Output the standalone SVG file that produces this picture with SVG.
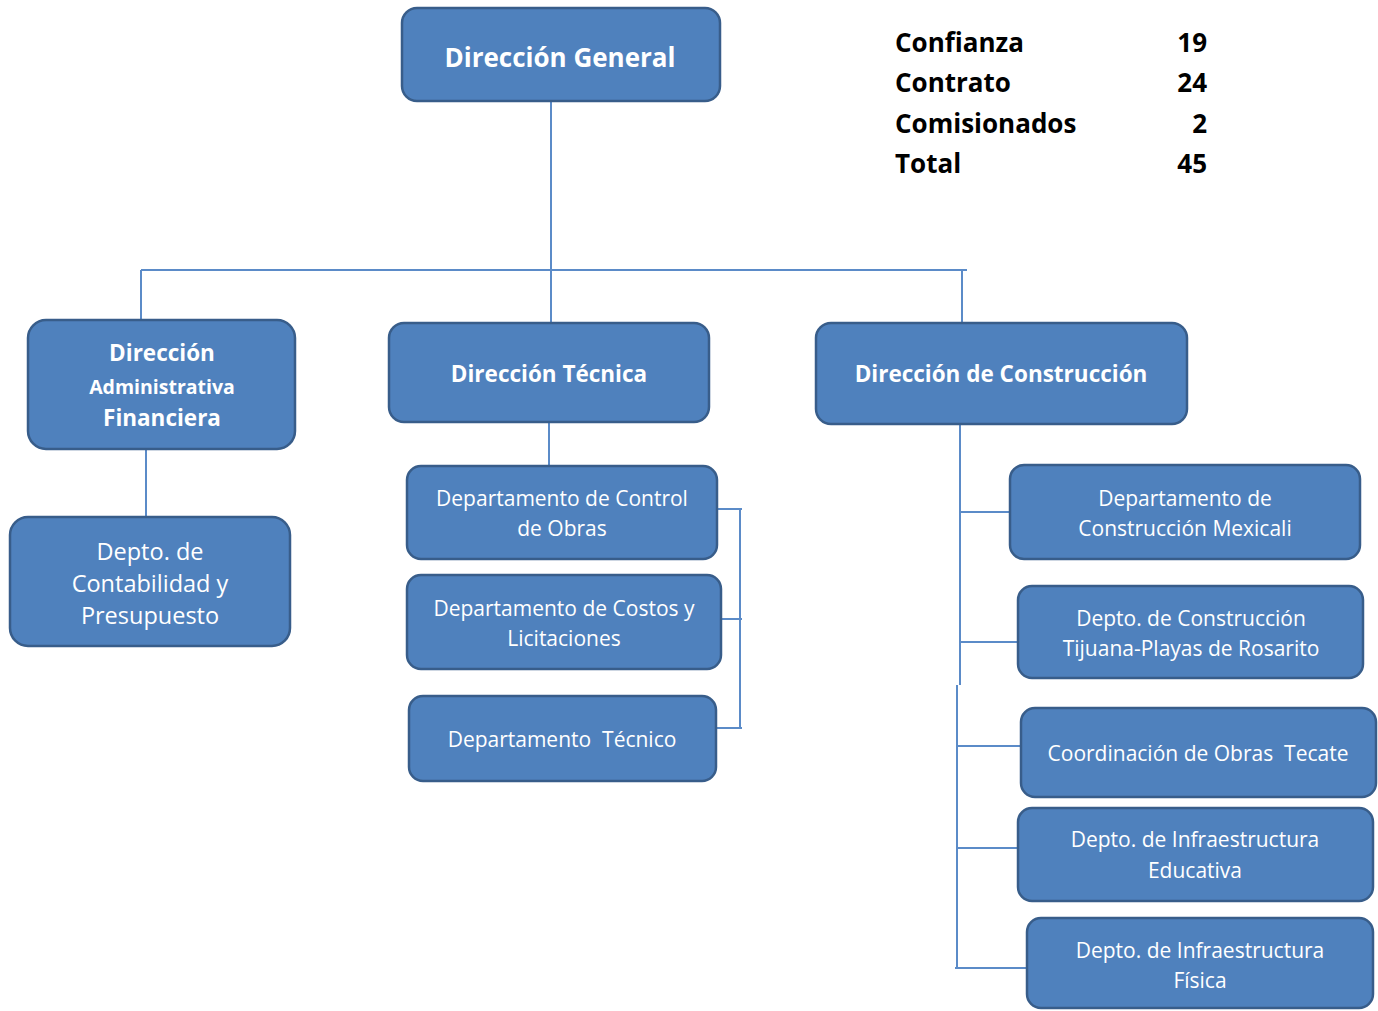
<svg xmlns="http://www.w3.org/2000/svg" width="1378" height="1011" viewBox="0 0 1378 1011">
<style>
.box{fill:#4f81bd;stroke:#385d8a;stroke-width:2.5}
.c{fill:none;stroke:#5b8bc8;stroke-width:2}
text{font-family:"Open Sans","Liberation Sans",sans-serif;fill:#ffffff;text-anchor:middle;white-space:pre}
.b{font-weight:bold}
.s{fill:#000;font-weight:bold;font-size:26px;text-anchor:start}
.n{fill:#000;font-weight:bold;font-size:26px;text-anchor:end}
.t{font-size:21px}
</style>
<rect width="1378" height="1011" fill="#fff"/>
<g id="connectors">
<path class="c" d="M551 101V270M141 270H967M141 270V320M551 270V323M962 270V323"/>
<path class="c" d="M146 449V517"/>
<path class="c" d="M549 422V466M717 509H742M721 619H742M716 728H742M740 509V728"/>
<path class="c" d="M960 424V685M957 685V968M960 512H1010M960 642H1018M957 746H1021M957 848H1018M955 968H1027"/>
</g>
<g id="dg"><rect class="box" x="402" y="8" width="318" height="93" rx="15"/><text class="b" x="560" y="67" font-size="26">Dirección General</text></g>
<g id="daf"><rect class="box" x="28" y="320" width="267" height="129" rx="18"/>
<text class="b" x="162" y="361" font-size="22.5">Dirección</text>
<text class="b" x="162" y="394" font-size="19.5">Administrativa</text>
<text class="b" x="162" y="426" font-size="22.5">Financiera</text></g>
<g id="dcp"><rect class="box" x="10" y="517" width="280" height="129" rx="18"/>
<text x="150" y="560" font-size="23.5">Depto. de</text>
<text x="150" y="592" font-size="23.5">Contabilidad y</text>
<text x="150" y="624" font-size="23.5">Presupuesto</text></g>
<g id="dt"><rect class="box" x="389" y="323" width="320" height="99" rx="15"/><text class="b" x="549" y="382" font-size="22.5">Dirección Técnica</text></g>
<g id="dc"><rect class="box" x="816" y="323" width="371" height="101" rx="15"/><text class="b" x="1001" y="382" font-size="22.5">Dirección de Construcción</text></g>
<g id="dco"><rect class="box" x="407" y="466" width="310" height="93" rx="14"/>
<text class="t" x="562" y="506">Departamento de Control</text><text class="t" x="562" y="536">de Obras</text></g>
<g id="dcl"><rect class="box" x="407" y="575" width="314" height="94" rx="14"/>
<text class="t" x="564" y="616">Departamento de Costos y</text><text class="t" x="564" y="646">Licitaciones</text></g>
<g id="dte"><rect class="box" x="409" y="696" width="307" height="85" rx="14"/>
<text class="t" x="562" y="747" xml:space="preserve">Departamento  Técnico</text></g>
<g id="dmx"><rect class="box" x="1010" y="465" width="350" height="94" rx="14"/>
<text class="t" x="1185" y="506">Departamento de</text><text class="t" x="1185" y="536">Construcción Mexicali</text></g>
<g id="dtj"><rect class="box" x="1018" y="586" width="345" height="92" rx="14"/>
<text class="t" x="1191" y="626">Depto. de Construcción</text><text class="t" x="1191" y="656">Tijuana-Playas de Rosarito</text></g>
<g id="dtc"><rect class="box" x="1021" y="708" width="355" height="89" rx="14"/>
<text class="t" x="1198" y="761" xml:space="preserve">Coordinación de Obras  Tecate</text></g>
<g id="die"><rect class="box" x="1018" y="808" width="355" height="93" rx="14"/>
<text class="t" x="1195" y="847">Depto. de Infraestructura</text><text class="t" x="1195" y="878">Educativa</text></g>
<g id="dif"><rect class="box" x="1027" y="918" width="346" height="90" rx="14"/>
<text class="t" x="1200" y="958">Depto. de Infraestructura</text><text class="t" x="1200" y="988">Física</text></g>
<g id="stats">
<text class="s" x="895" y="52">Confianza</text><text class="n" x="1207" y="52">19</text>
<text class="s" x="895" y="92">Contrato</text><text class="n" x="1207" y="92">24</text>
<text class="s" x="895" y="133">Comisionados</text><text class="n" x="1207" y="133">2</text>
<text class="s" x="895" y="173">Total</text><text class="n" x="1207" y="173">45</text>
</g>
</svg>
